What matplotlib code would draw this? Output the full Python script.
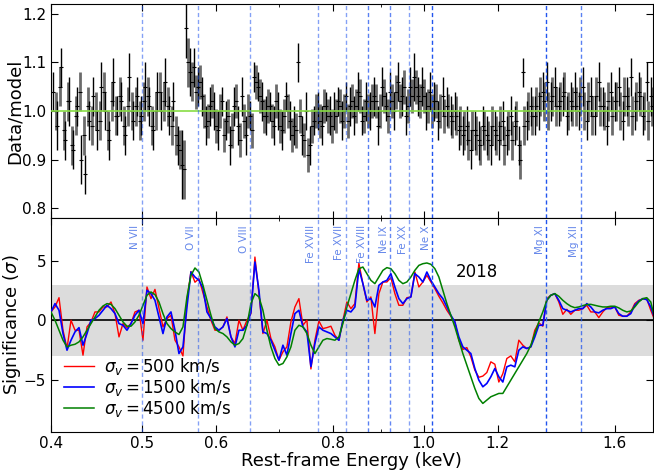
import numpy as np
import matplotlib
matplotlib.use('Agg')
import matplotlib.pyplot as plt
from matplotlib.ticker import FixedLocator, FixedFormatter, NullFormatter

# --- data/model ratio, two instruments (black / grey) on log energy bins
black_ratio = [1.04, 0.97, 1.09, 0.94, 1.02, 0.92, 1.01, 0.90, 0.87, 0.98,
               1.03, 0.96, 1.05, 1.00, 0.94, 1.06, 0.99, 1.02, 0.95, 1.07,
               0.98, 1.03, 0.99, 1.05, 1.01, 0.96, 1.04, 1.00, 1.06, 0.99,
               1.02, 0.93, 0.89, 1.17, 1.08, 1.09, 1.05, 1.03, 0.97, 1.01,
               1.00, 0.96, 1.02, 0.98, 0.93, 1.01, 0.97, 1.03, 0.95, 0.99,
               1.07, 1.05, 1.02, 0.99, 1.01, 0.97, 1.00, 0.96, 1.03, 0.98,
               0.97, 1.10, 0.95, 1.00, 0.93, 0.98, 1.00, 0.97, 1.01, 0.99,
               1.00, 1.02, 0.98, 1.03, 1.01, 0.99, 1.04, 0.98, 1.02, 1.00,
               1.03, 0.97, 1.05, 1.01, 1.04, 1.00, 1.06, 1.03, 0.99, 1.05,
               1.07, 1.03, 1.05, 1.00, 1.04, 1.02, 0.98, 1.03, 1.01, 0.99,
               1.00, 0.96, 0.95, 0.97, 0.92, 0.96, 0.94, 0.97, 0.95, 0.93,
               0.96, 0.94, 0.98, 0.95, 0.99, 0.97, 0.93, 1.08, 0.98, 1.01,
               0.99, 1.00, 1.04, 1.06, 1.02, 1.05, 1.01, 1.03, 0.99, 1.02,
               1.04, 1.00, 1.05, 0.98, 1.03, 0.99, 1.06, 1.01, 0.97, 1.04,
               1.02, 1.05, 0.98, 1.03, 1.07, 1.00, 1.04, 0.99, 1.06, 1.03]
black_err = [0.04, 0.05, 0.04, 0.04, 0.05, 0.04, 0.04, 0.05, 0.04, 0.04,
             0.04, 0.04, 0.05, 0.04, 0.04, 0.05, 0.04, 0.04, 0.04, 0.05,
             0.04, 0.04, 0.04, 0.05, 0.04, 0.04, 0.04, 0.04, 0.05, 0.04,
             0.04, 0.04, 0.07, 0.06, 0.05, 0.04, 0.04, 0.04, 0.04, 0.04,
             0.04, 0.04, 0.03, 0.04, 0.04, 0.04, 0.04, 0.04, 0.04, 0.03,
             0.03, 0.03, 0.04, 0.04, 0.03, 0.04, 0.04, 0.04, 0.03, 0.04,
             0.04, 0.04, 0.04, 0.04, 0.04, 0.03, 0.04, 0.04, 0.03, 0.04,
             0.04, 0.03, 0.04, 0.03, 0.04, 0.04, 0.04, 0.03, 0.04, 0.04,
             0.04, 0.04, 0.04, 0.03, 0.04, 0.04, 0.04, 0.04, 0.04, 0.04,
             0.05, 0.04, 0.04, 0.04, 0.04, 0.04, 0.04, 0.04, 0.04, 0.04,
             0.04, 0.04, 0.04, 0.04, 0.04, 0.04, 0.04, 0.04, 0.04, 0.04,
             0.04, 0.04, 0.04, 0.04, 0.04, 0.04, 0.04, 0.03, 0.04, 0.04,
             0.04, 0.04, 0.04, 0.04, 0.04, 0.04, 0.04, 0.04, 0.04, 0.04,
             0.04, 0.04, 0.04, 0.04, 0.04, 0.04, 0.04, 0.04, 0.04, 0.04,
             0.04, 0.04, 0.04, 0.04, 0.04, 0.04, 0.04, 0.04, 0.04, 0.04]
grey_ratio = [1.00, 1.05, 0.96, 1.02, 0.93, 0.99, 1.04, 0.95, 1.01, 0.97,
              1.00, 0.98, 1.04, 0.96, 1.02, 0.99, 1.03, 0.97, 1.01, 1.00,
              1.01, 0.98, 1.02, 1.03, 0.97, 1.00, 1.04, 1.02, 1.01, 0.97,
              0.95, 0.92, 0.88, 1.10, 1.06, 1.04, 1.06, 1.00, 0.98, 1.02,
              0.97, 1.00, 0.95, 0.99, 0.96, 1.02, 0.94, 0.98, 1.00, 0.96,
              1.06, 1.03, 0.99, 1.01, 0.98, 1.02, 0.97, 0.99, 1.00, 0.95,
              0.96, 0.99, 0.94, 0.91, 0.97, 1.00, 0.98, 1.01, 0.99, 0.97,
              0.99, 1.01, 1.00, 0.98, 1.02, 1.01, 1.03, 0.99, 1.00, 1.02,
              1.02, 1.00, 1.03, 0.99, 1.02, 1.04, 1.02, 1.05, 1.01, 1.03,
              1.05, 1.02, 1.03, 1.01, 1.00, 1.02, 1.00, 0.99, 1.00, 0.98,
              0.99, 0.97, 0.96, 0.94, 0.96, 0.95, 0.93, 0.96, 0.94, 0.97,
              0.95, 0.97, 0.93, 0.96, 0.94, 0.98, 0.90, 0.97, 1.00, 0.99,
              1.01, 1.03, 1.02, 1.00, 1.03, 1.01, 1.02, 1.04, 1.00, 1.01,
              1.01, 1.03, 1.00, 1.02, 0.99, 1.03, 1.01, 1.00, 1.02, 0.99,
              1.02, 1.00, 1.03, 1.01, 0.99, 1.02, 1.03, 1.00, 0.98, 1.01]
grey_err = [0.04] * 30 + [0.04, 0.04, 0.06, 0.05, 0.04] + [0.035] * 65 + [0.04] * 50

# --- significance scans for three line widths on a common log grid
sig_500 = [0.70, 1.12, 1.90, -0.84, -2.38, 0.00, -0.84, -0.84, -2.94, -0.56,
           -0.14, 0.70, 0.70, 1.12, 1.12, 1.54, 0.56, -1.40, -0.28, -0.62,
           -0.28, 0.70, 0.84, -1.68, 2.80, 1.82, 2.60, 1.00, -0.56, 0.14,
           0.42, -1.68, -2.24, -3.00, 1.68, 4.10, 3.20, 3.50, 2.30, 1.12,
           0.00, -0.84, -0.84, -0.56, 0.28, -1.40, -1.96, 0.00, -0.84, 0.00,
           0.56, 5.32, 2.24, -1.12, 0.00, -1.54, -2.24, -3.36, -2.66, -2.24,
           -0.14, 1.12, 1.82, -0.42, 0.00, -4.10, -1.68, -0.06, -0.70, -0.62,
           -0.50, -1.26, -1.68, 0.00, 1.54, 0.98, 1.40, 4.80, 3.08, 1.54,
           1.96, -1.12, 2.24, 3.22, 3.22, 3.59, 2.24, 1.26, 1.26, 1.90,
           1.96, 4.06, 2.80, 3.22, 3.78, 3.22, 2.66, 2.02, 1.46, 0.84,
           0.34, -0.14, -1.68, -2.46, -2.30, -3.08, -4.20, -4.80, -4.70, -4.40,
           -3.50, -3.70, -5.20, -4.50, -3.22, -3.00, -3.50, -1.68, -2.10, -2.38,
           -2.24, -0.84, -0.22, -0.50, 1.82, 2.10, 2.24, 1.54, 0.50, 0.92,
           0.50, 0.84, 0.84, 0.98, 1.26, 0.70, 0.70, 0.22, 0.70, 1.06,
           1.04, 1.12, 0.42, 0.34, 0.34, 0.70, 1.40, 1.68, 1.79, 1.79,
           0.84, 0.00]
sig_1500 = [0.70, 1.40, 0.84, -1.12, -2.52, -1.68, -0.98, -0.62, -2.10, -1.12,
            0.00, 0.14, 0.42, 0.84, 1.26, 0.98, 0.56, -0.28, -0.42, -0.84,
            -0.28, 0.42, 0.84, -0.28, 2.52, 2.24, 1.68, 0.28, -1.12, 0.28,
            0.70, -0.84, -2.80, -2.24, 1.12, 4.06, 3.64, 3.36, 2.70, 0.70,
            0.14, -0.56, -0.84, -0.56, 0.14, -1.40, -2.24, -0.84, -0.84, -0.42,
            0.70, 4.90, 2.52, -0.98, -1.12, -1.68, -2.52, -3.36, -2.10, -2.94,
            -1.12, 0.56, 0.84, -0.56, -0.98, -3.90, -1.96, -0.56, -0.84, -0.98,
            -1.12, -1.40, -1.68, 0.00, 0.84, 0.70, 1.12, 4.34, 3.08, 1.68,
            1.82, 1.12, 2.94, 3.22, 3.36, 3.92, 2.80, 1.82, 1.40, 1.82,
            1.96, 3.92, 3.64, 3.22, 4.06, 3.36, 2.80, 2.24, 1.82, 1.12,
            0.42, -0.14, -1.40, -2.24, -2.52, -2.80, -4.06, -5.04, -5.60, -5.32,
            -4.76, -4.06, -4.76, -5.20, -3.92, -3.78, -3.92, -2.52, -2.24, -2.38,
            -2.24, -1.40, -0.42, -0.42, 1.68, 2.10, 2.24, 1.68, 0.98, 0.84,
            0.70, 0.84, 0.98, 0.98, 1.40, 1.12, 0.70, 0.62, 0.84, 0.98,
            0.98, 1.12, 0.56, 0.34, 0.34, 0.56, 1.26, 1.62, 1.82, 1.74,
            1.12, 0.14]
sig_4500 = [0.70, 0.00, -0.84, -1.68, -2.24, -2.10, -2.02, -1.82, -1.40, -0.84,
            -0.28, 0.28, 0.84, 1.20, 1.40, 1.34, 0.98, 0.42, -0.14, -0.50,
            -0.50, -0.14, 0.42, 1.26, 2.10, 2.38, 2.16, 1.54, 0.56, -0.28,
            -0.70, -0.98, -1.20, -0.56, 1.96, 3.78, 4.40, 4.06, 2.95, 1.68,
            0.42, -0.70, -0.98, -1.12, -1.40, -1.82, -2.10, -1.96, -1.54, -0.42,
            1.40, 2.24, 1.96, 0.84, -0.84, -2.24, -3.22, -3.78, -3.64, -3.08,
            -2.24, -0.84, -0.42, -0.56, -1.12, -2.10, -2.80, -2.24, -1.68, -1.54,
            -1.60, -1.68, -1.40, -0.28, 1.12, 2.24, 3.36, 4.34, 4.48, 3.92,
            3.36, 3.08, 3.64, 4.20, 4.43, 4.34, 3.92, 3.36, 3.08, 3.22,
            3.64, 4.20, 4.62, 4.76, 4.82, 4.71, 4.34, 3.64, 2.52, 1.40,
            0.42, -0.56, -1.68, -2.80, -3.78, -4.76, -5.74, -6.58, -7.00, -6.72,
            -6.44, -6.30, -6.16, -6.16, -5.60, -5.04, -4.48, -3.92, -3.36, -2.80,
            -2.10, -1.12, -0.14, 0.70, 1.68, 2.10, 2.24, 2.02, 1.68, 1.40,
            1.18, 1.06, 1.12, 1.23, 1.32, 1.34, 1.26, 1.18, 1.12, 1.12,
            1.18, 1.18, 1.04, 0.84, 0.70, 0.78, 1.12, 1.54, 1.82, 1.90,
            1.54, 0.14]

line_names = ['N VII', 'O VII', 'O VIII', 'Fe XVIII', 'Fe XVII', 'Fe XVIII',
              'Ne IX', 'Fe XX', 'Ne X', 'Mg XI', 'Mg XII']
line_energies = [0.500, 0.574, 0.653, 0.771, 0.826, 0.873, 0.921, 0.965, 1.021, 1.352, 1.472]
line_alpha = [0.55, 0.55, 0.55, 0.55, 0.55, 0.75, 0.7, 0.55, 1.0, 1.0, 0.75]

xticks = [0.4, 0.5, 0.6, 0.8, 1.0, 1.2, 1.6]
xminor = [0.7, 0.9]

# energy bins
e_black = np.geomspace(0.402, 1.75, len(black_ratio))
e_grey = np.geomspace(0.405, 1.755, len(grey_ratio))
e_sig = np.geomspace(0.4, 1.765, len(sig_500))

fig = plt.figure(figsize=(6.54, 4.70), dpi=100)
ax1 = fig.add_axes([0.078, 0.536, 0.920, 0.4555])
ax2 = fig.add_axes([0.078, 0.081, 0.920, 0.455], sharex=ax1)

# top panel
ax1.errorbar(e_grey, grey_ratio, yerr=grey_err, fmt='_', color='k', ms=3, mew=0.8,
             ecolor='#6b6b6b', elinewidth=2.0, capsize=0, zorder=2)
ax1.errorbar(e_black, black_ratio, yerr=black_err, fmt='_', color='k', ms=3, mew=0.8,
             ecolor='k', elinewidth=1.0, capsize=0, zorder=3)
ax1.axhline(1.0, color='#88dd44', lw=1.2, zorder=4)
ax1.set_ylim(0.78, 1.22)
ax1.set_yticks([0.8, 0.9, 1.0, 1.1, 1.2])
ax1.set_ylabel('Data/model', fontsize=13)

# bottom panel
ax2.axhspan(-3, 3, color='#dcdcdc', lw=0, zorder=0)
ax2.axhline(0, color='k', lw=1.2, zorder=1)
ax2.plot(e_sig, sig_500, color='red', lw=1.0, label=r'$\sigma_v = 500$ km/s', zorder=3)
ax2.plot(e_sig, sig_1500, color='blue', lw=1.2, label=r'$\sigma_v = 1500$ km/s', zorder=4)
ax2.plot(e_sig, sig_4500, color='green', lw=1.1, label=r'$\sigma_v = 4500$ km/s', zorder=5)
ax2.set_ylim(-9.4, 8.6)
ax2.set_yticks([-5, 0, 5])
ax2.set_ylabel(r'Significance ($\sigma$)', fontsize=13)
ax2.set_xlabel('Rest-frame Energy (keV)', fontsize=13, labelpad=1)
ax2.text(1.14, 4.1, '2018', fontsize=12, ha='center', va='center')
ax2.legend(loc='lower left', frameon=False, fontsize=12, handlelength=1.8,
           labelspacing=0.0, borderaxespad=0.4, handletextpad=0.6)

# both y labels share the same column
ax1.yaxis.set_label_coords(-0.046, 0.5)
ax2.yaxis.set_label_coords(-0.046, 0.5)

for ax in (ax1, ax2):
    for e, a in zip(line_energies, line_alpha):
        ax.axvline(e, color='#2255ee', alpha=a, lw=1.0, ls=(0, (3, 2)), zorder=6)
    ax.set_xscale('log')
    ax.set_xlim(0.4, 1.756)
    ax.xaxis.set_major_locator(FixedLocator(xticks))
    ax.xaxis.set_minor_locator(FixedLocator(xminor))
    ax.xaxis.set_minor_formatter(NullFormatter())
    ax.tick_params(which='both', direction='in', top=True, right=True, labelsize=11)
    ax.tick_params(which='major', length=5)
    ax.tick_params(which='minor', length=2.5)

ax2.xaxis.set_major_formatter(FixedFormatter(['0.4', '0.5', '0.6', '0.8', '1.0', '1.2', '1.6']))
ax2.tick_params(axis='x', pad=3)
plt.setp(ax1.get_xticklabels(), visible=False)

for name, e in zip(line_names, line_energies):
    ax2.text(e * 0.996, 8.0, name, rotation=90, ha='right', va='top',
             fontsize=7.5, color='#4a72e6', alpha=0.85)

fig.savefig('out.png', dpi=100)
